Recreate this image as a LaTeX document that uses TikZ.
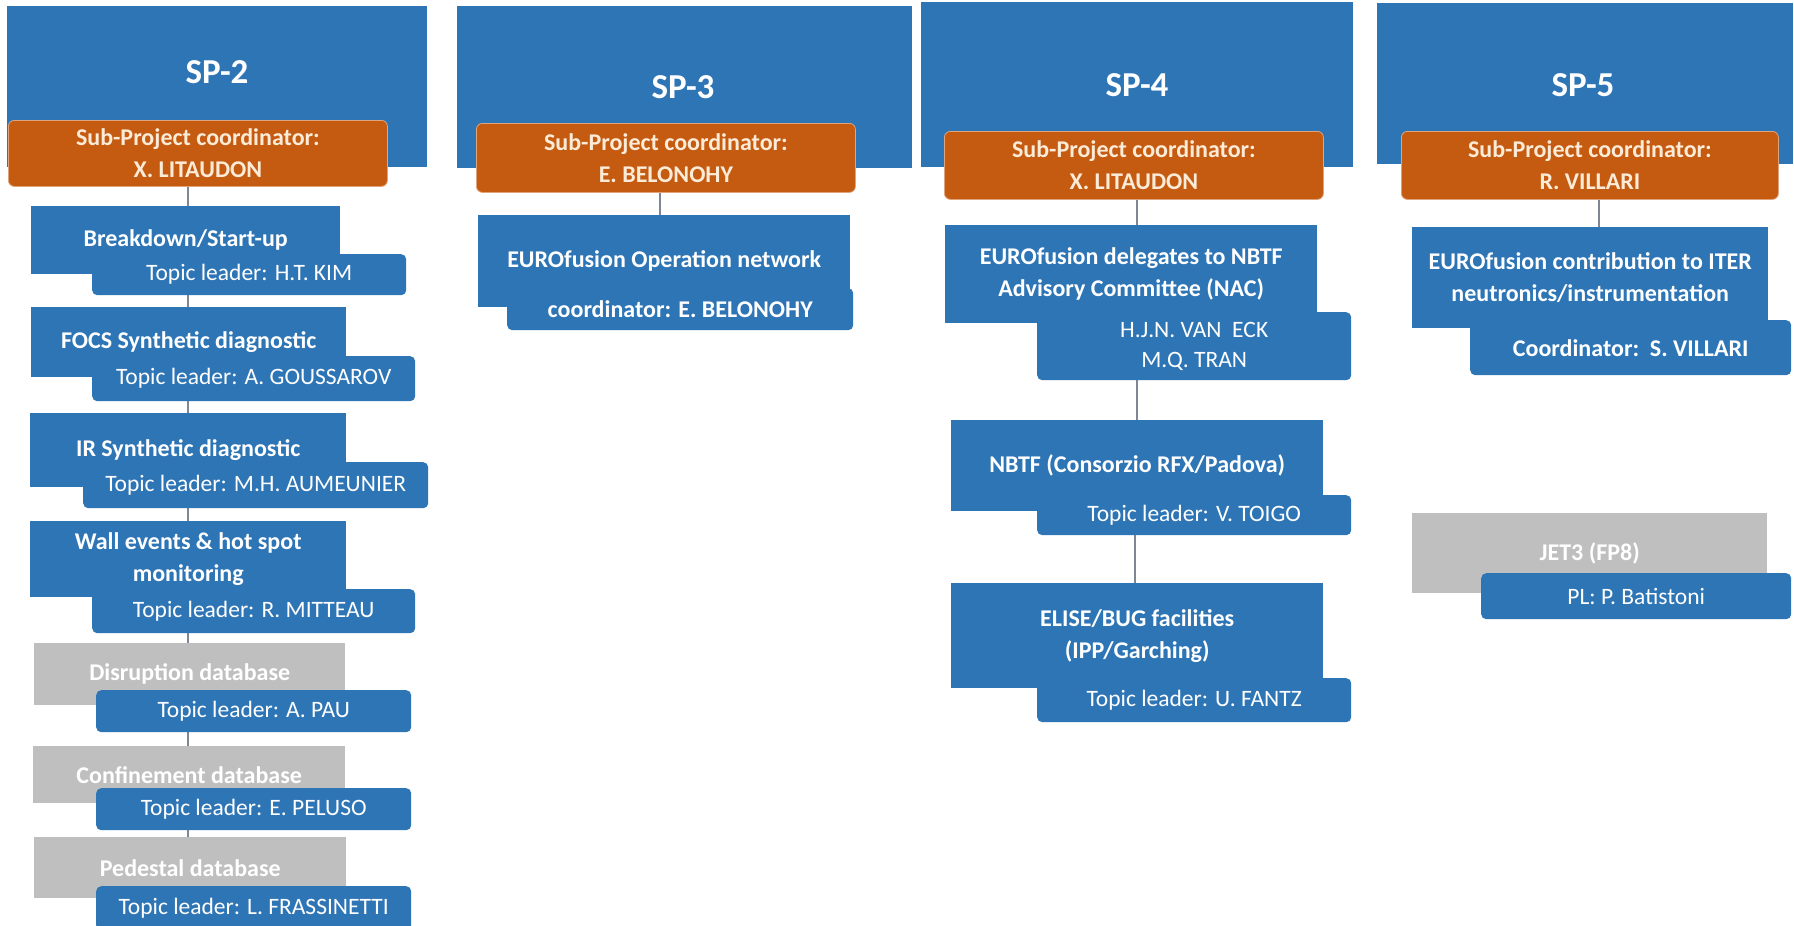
\documentclass[tikz,border=0pt]{standalone}
\usepackage{fontspec}
\setmainfont{Carlito}
\usetikzlibrary{backgrounds}
\definecolor{spblue}{HTML}{2E75B6}
\definecolor{sporange}{HTML}{C55A11}
\definecolor{spgray}{HTML}{BFBFBF}
\definecolor{creamtext}{HTML}{FCEBD7}
\definecolor{conncol}{HTML}{7D8894}
\tikzset{
  hdr/.style={fill=spblue, draw=none, anchor=north west, inner sep=0pt},
  hdrtxt/.style={text=white, inner sep=0pt, font=\fontsize{35}{40}\selectfont\bfseries},
  coordbox/.style={fill=sporange, draw=sporange!55!white, line width=0.8pt, rounded corners=6pt,
    text=creamtext, align=center, anchor=north west, inner sep=0pt,
    font=\fontsize{24}{32}\selectfont\bfseries},
  topbox/.style={fill=spblue, draw=none, text=white, align=center, anchor=north west, inner sep=0pt,
    font=\fontsize{24}{32}\selectfont\bfseries},
  graybox/.style={topbox, fill=spgray},
  leadbox/.style={fill=spblue, draw=none, rounded corners=5pt, text=white, align=center,
    anchor=north west, inner sep=0pt, font=\fontsize{23.5}{30}\selectfont},
  leadboxb/.style={leadbox, font=\fontsize{24}{30}\selectfont\bfseries},
  conn/.style={draw=conncol, line width=1.4pt}
}
\begin{document}
\begin{tikzpicture}[x=1pt,y=-1pt]
\useasboundingbox (0,0) rectangle (1794,926);
% ---------------- SP-2 ----------------
\node[hdr, minimum width=420, minimum height=161] (hd2) at (7,6) {};
\node[hdrtxt] (hd2t) at (217,72) {SP-2};
\node[coordbox, minimum width=379, minimum height=66] (c2) at (8,120) {Sub-Project coordinator:\\X. LITAUDON};
\node[topbox, minimum width=309, minimum height=68] (b1) at (31,206) {Breakdown/Start-up};
\node[leadbox, minimum width=314, minimum height=41] (t1) at (92,254) {Topic leader: H.T. KIM};
\node[topbox, minimum width=315, minimum height=70] (b2) at (31,307) {FOCS Synthetic diagnostic};
\node[leadbox, minimum width=323, minimum height=45] (t2) at (92,356) {Topic leader: A. GOUSSAROV};
\node[topbox, minimum width=316, minimum height=74] (b3) at (30,413) {IR Synthetic diagnostic};
\node[leadbox, minimum width=345, minimum height=46] (t3) at (83,462) {Topic leader: M.H. AUMEUNIER};
\node[topbox, minimum width=316, minimum height=76] (b4) at (30,521) {Wall events \& hot spot\\monitoring};
\node[leadbox, minimum width=323, minimum height=44] (t4) at (92,589) {Topic leader: R. MITTEAU};
\node[graybox, minimum width=311, minimum height=62] (g5) at (34,643) {Disruption database};
\node[leadbox, minimum width=315, minimum height=42] (t5) at (96,690) {Topic leader: A. PAU};
\node[graybox, minimum width=312, minimum height=57] (g6) at (33,746) {Confinement database};
\node[leadbox, minimum width=315, minimum height=42] (t6) at (96,788) {Topic leader: E. PELUSO};
\node[graybox, minimum width=312, minimum height=61] (g7) at (34,837) {Pedestal database};
\node[leadbox, minimum width=315, minimum height=44] (t7) at (96,886) {Topic leader: L. FRASSINETTI};
% ---------------- SP-3 ----------------
\node[hdr, minimum width=455, minimum height=162] (hd3) at (457,6) {};
\node[hdrtxt] (hd3t) at (683,87) {SP-3};
\node[coordbox, minimum width=379, minimum height=69] (c3) at (476,123) {Sub-Project coordinator:\\E. BELONOHY};
\node[topbox, minimum width=372, minimum height=92] (e3) at (478,215) {EUROfusion Operation network};
\node[leadboxb, minimum width=346, minimum height=42] (f3) at (507,288) {coordinator: E. BELONOHY};
% ---------------- SP-4 ----------------
\node[hdr, minimum width=432, minimum height=165] (hd4) at (921,2) {};
\node[hdrtxt] (hd4t) at (1137,85) {SP-4};
\node[coordbox, minimum width=379, minimum height=68] (c4) at (944,131) {Sub-Project coordinator:\\X. LITAUDON};
\node[topbox, minimum width=372, minimum height=98] (d4) at (945,225) {EUROfusion delegates to NBTF\\Advisory Committee (NAC)};
\node[leadbox, minimum width=314, minimum height=68] (k4) at (1037,312) {H.J.N. VAN\ \ ECK\\M.Q. TRAN};
\node[topbox, minimum width=372, minimum height=91] (n4) at (951,420) {NBTF (Consorzio RFX/Padova)};
\node[leadbox, minimum width=314, minimum height=40] (v4) at (1037,495) {Topic leader: V. TOIGO};
\node[topbox, minimum width=372, minimum height=105] (f4) at (951,583) {ELISE/BUG facilities\\(IPP/Garching)};
\node[leadbox, minimum width=314, minimum height=44] (z4) at (1037,678) {Topic leader: U. FANTZ};
% ---------------- SP-5 ----------------
\node[hdr, minimum width=416, minimum height=161] (hd5) at (1377,3) {};
\node[hdrtxt] (hd5t) at (1583,85) {SP-5};
\node[coordbox, minimum width=377, minimum height=68] (c5) at (1401,131) {Sub-Project coordinator:\\R. VILLARI};
\node[topbox, minimum width=356, minimum height=101] (u5) at (1412,227) {EUROfusion contribution to ITER\\neutronics/instrumentation};
\node[leadboxb, minimum width=321, minimum height=55] (s5) at (1470,320) {Coordinator:\ \ S. VILLARI};
\node[graybox, minimum width=355, minimum height=80] (j5) at (1412,513) {JET3 (FP8)};
\node[leadbox, minimum width=310, minimum height=46] (p5) at (1481,573) {PL: P. Batistoni};
% ---------------- connectors ----------------
\coordinate (x2) at (188,0);
\coordinate (x3) at (660,0);
\coordinate (x4) at (1137,0);
\coordinate (x4b) at (1135,0);
\coordinate (x5) at (1599,0);
\begin{pgfonlayer}{background}
\fill[white] (0,0) rectangle (1794,926);
\draw[conn] (c2.south -| x2) -- (b1.north -| x2);
\draw[conn] (t1.south -| x2) -- (b2.north -| x2);
\draw[conn] (t2.south -| x2) -- (b3.north -| x2);
\draw[conn] (t3.south -| x2) -- (b4.north -| x2);
\draw[conn] (t4.south -| x2) -- (g5.north -| x2);
\draw[conn] (t5.south -| x2) -- (g6.north -| x2);
\draw[conn] (t6.south -| x2) -- (g7.north -| x2);
\draw[conn] (c3.south -| x3) -- (e3.north -| x3);
\draw[conn] (c4.south -| x4) -- (d4.north -| x4);
\draw[conn] (k4.south -| x4) -- (n4.north -| x4);
\draw[conn] (v4.south -| x4b) -- (f4.north -| x4b);
\draw[conn] (c5.south -| x5) -- (u5.north -| x5);
\end{pgfonlayer}
\end{tikzpicture}
\end{document}
